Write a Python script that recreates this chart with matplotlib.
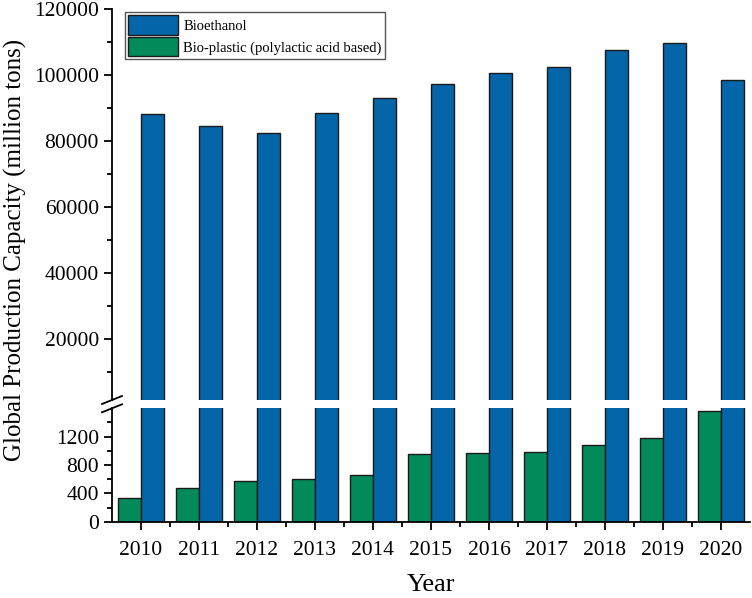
import matplotlib
matplotlib.use("Agg")
import matplotlib.pyplot as plt
from matplotlib.lines import Line2D
import numpy as np

years = ["2010", "2011", "2012", "2013", "2014", "2015", "2016", "2017", "2018", "2019", "2020"]
bioethanol = [88300, 84700, 82600, 88700, 93000, 97300, 100800, 102400, 107700, 109900, 98600]
bioplastic = [340, 480, 570, 605, 655, 955, 965, 980, 1080, 1175, 1565]

label_eth = "Bioethanol"
label_pla = "Bio-plastic (polylactic acid based)"

plt.rcParams['font.family'] = ['Liberation Serif', 'DejaVu Serif']

W, H = 752, 598
fig = plt.figure(figsize=(W / 100, H / 100), dpi=100)

left = 112 / W
right = 750 / W
ax_top = fig.add_axes([left, 1 - 400 / H, right - left, (400 - 9.3) / H])
ax_bot = fig.add_axes([left, 1 - 521.7 / H, right - left, (521.7 - 408.3) / H])

blue = "#0465A9"
green = "#038A5B"
x = np.arange(len(years))
w = 0.4

h_pla = ax_bot.bar(x - w / 2, bioplastic, width=w, color=green, edgecolor="#1a1a1a", linewidth=1.0, label=label_pla, zorder=2)
h_eth = ax_bot.bar(x + w / 2, bioethanol, width=w, color=blue, edgecolor="#1a1a1a", linewidth=1.0, label=label_eth, zorder=2)
ax_top.bar(x + w / 2, bioethanol, width=w, color=blue, edgecolor="#1a1a1a", linewidth=1.0, zorder=2)

for ax in (ax_top, ax_bot):
    ax.set_xlim(-0.5, 10.5)
    ax.spines['top'].set_visible(False)
    ax.spines['right'].set_visible(False)
    ax.spines['left'].set_linewidth(1.3)
    ax.spines['bottom'].set_linewidth(1.3)
    ax.tick_params(axis='both', which='major', direction='out', length=6, width=1.3, labelsize=15.5)
    ax.tick_params(axis='both', which='minor', direction='out', length=3.5, width=1.3)

ax_top.set_ylim(1600, 120000)
ax_top.set_yticks(np.arange(20000, 120001, 20000))
ax_top.set_yticks(np.arange(10000, 120000, 20000), minor=True)
ax_top.spines['bottom'].set_visible(False)
ax_top.set_xticks([])
ax_top.tick_params(axis='x', which='both', bottom=False, labelbottom=False)

ax_bot.set_ylim(0, 1600)
ax_bot.set_yticks([0, 400, 800, 1200])
ax_bot.set_yticks([200, 600, 1000, 1400], minor=True)
ax_bot.set_xticks(x)
ax_bot.set_xticklabels(years)
ax_bot.set_xticks(x[:-1] + 0.5, minor=True)
ax_bot.tick_params(axis='x', which='major', pad=8)
ax_bot.set_xlabel("Year", fontsize=19, labelpad=10)

fig.text(15 / W, 1 - 250 / H, "Global Production Capacity (million tons)", rotation=90,
         ha='center', va='center', fontsize=18)

# break marks
for yb in (400, 408.3):
    fig.add_artist(Line2D([102 / W, 122 / W], [1 - (yb + 4) / H, 1 - (yb - 4) / H],
                          color='black', linewidth=1.3, transform=fig.transFigure))

leg = fig.legend([h_eth, h_pla], [label_eth, label_pla],
                 loc='upper left', bbox_to_anchor=(125 / W, 1 - 12 / H),
                 bbox_transform=fig.transFigure, borderaxespad=0,
                 fontsize=10.5, fancybox=False, edgecolor='#555555', framealpha=1,
                 handlelength=3.4, handleheight=1.7, handletextpad=0.4,
                 labelspacing=0.15, borderpad=0.2)
leg.get_frame().set_linewidth(1.0)

fig.savefig("out.png", dpi=100)
